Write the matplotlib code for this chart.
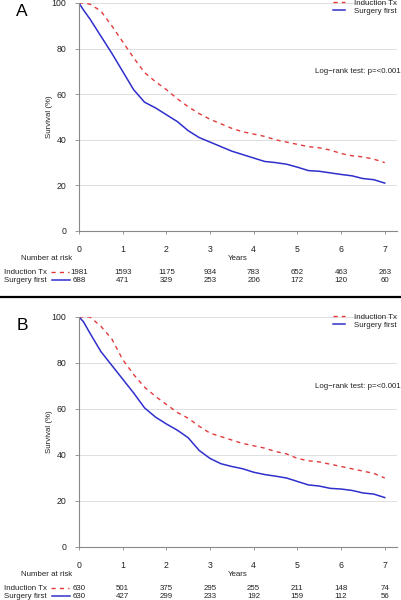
import matplotlib
matplotlib.use("Agg")
import matplotlib.pyplot as plt
from matplotlib.transforms import blended_transform_factory
from matplotlib.lines import Line2D

plt.rcParams['font.family'] = ['Liberation Sans', 'DejaVu Sans']

# ---------------- data ----------------
years_a = [0, 0.1, 0.25, 0.5, 0.75, 1.0, 1.25, 1.5, 1.75, 2.0, 2.25, 2.5, 2.75, 3.0, 3.25, 3.5,
           3.75, 4.0, 4.25, 4.5, 4.75, 5.0, 5.25, 5.5, 5.75, 6.0, 6.25, 6.5, 6.75, 7.0]
induction_a = [100, 100, 99.5, 96.5, 90, 83, 76, 69.5, 65.5, 62, 58, 54.5, 51.5, 49, 47, 45,
               43.5, 42.5, 41.5, 40, 39, 38, 37, 36.5, 35.5, 34, 33, 32.5, 31.5, 30]
surgery_a = [100, 97, 93, 85.5, 78, 70, 62, 56.5, 54, 51, 48, 44, 41, 39, 37, 35,
             33.5, 32, 30.5, 30, 29.3, 28, 26.5, 26.2, 25.5, 24.8, 24.2, 23, 22.5, 21]

years_b = years_a
induction_b = [100, 100, 100, 96, 90.5, 81.5, 75, 69.5, 65.5, 62, 58.5, 56, 52.5, 49.5, 48, 46.5,
               45, 44, 43, 41.5, 40.5, 38.5, 37.5, 37, 36, 35, 34, 33, 32, 30]
surgery_b = [100, 98, 93, 85, 79, 73, 67, 60.5, 56.5, 53.5, 50.8, 47.5, 42, 38.5, 36.2, 35,
             34, 32.5, 31.5, 30.8, 30, 28.5, 27, 26.5, 25.5, 25.2, 24.6, 23.5, 23, 21.5]

risk_years = [0, 1, 2, 3, 4, 5, 6, 7]
risk_induction_a = [1981, 1593, 1175, 934, 783, 652, 463, 263]
risk_surgery_a = [688, 471, 329, 253, 206, 172, 120, 60]
risk_induction_b = [630, 501, 375, 295, 255, 211, 148, 74]
risk_surgery_b = [630, 427, 299, 233, 192, 159, 112, 56]

series_names = ["Induction Tx", "Surgery first"]
panel_labels = ["A", "B"]
pvalue_text = "Log\u2212rank test: p=<0.001"

# ---------------- style ----------------
W, H = 402, 600
RED = '#e23a3a'
BLUE = '#2f2fcc'
GRAY = '#888888'
TXT = '#222222'
FS = 5.7
TFS = 6.3

fig = plt.figure(figsize=(W / 100, H / 100), dpi=100)


def fx(px):
    return px / W


def fy(py):
    return 1 - py / H


def panel(top_px, bottom_px, years, ind, sur, r_ind, r_sur, label):
    left, right = 79, 397
    hpx = bottom_px - top_px
    ax = fig.add_axes([fx(left), fy(bottom_px), fx(right - left), hpx / H])
    ax.set_xlim(0, 7.28)
    ax.set_ylim(0, 100)
    ax.set_yticks([0, 20, 40, 60, 80, 100])
    ax.set_xticks(risk_years)
    ax.grid(axis='y', color='#dedede', lw=0.7)
    ax.set_axisbelow(True)
    for s in ['top', 'right']:
        ax.spines[s].set_visible(False)
    for s in ['left', 'bottom']:
        ax.spines[s].set_color(GRAY)
        ax.spines[s].set_linewidth(0.8)
    ax.tick_params(axis='y', length=3, width=0.6, color=GRAY, pad=6, labelsize=TFS, labelcolor=TXT)
    ax.tick_params(axis='x', length=2, width=0.6, color=GRAY, pad=8, labelsize=TFS, labelcolor=TXT)
    ax.plot(years, ind, color=RED, lw=1.0, ls=(0, (3, 3)), label=series_names[0])
    ax.plot(years, sur, color=BLUE, lw=1.1, label=series_names[1])
    ax.set_ylabel("Survival (%)", fontsize=FS, color=TXT)
    ax.yaxis.set_label_coords((53 - left) / (right - left), 0.5)
    leg = ax.legend(loc='upper right', bbox_to_anchor=(1.0, 1.0 + 3.5 / hpx), frameon=False, fontsize=FS,
                    handlelength=1.5, handletextpad=1.1, labelspacing=0.05, borderpad=0,
                    borderaxespad=0)
    for t in leg.get_texts():
        t.set_color(TXT)
    ax.text(1.01, 0.70, pvalue_text, transform=ax.transAxes, ha='right', va='center',
            fontsize=FS, color=TXT)

    # labels below axis
    fig.text(fx(238), fy(bottom_px + 28), "Years", ha='center', va='center', fontsize=FS, color=TXT)
    fig.text(fx(47), fy(bottom_px + 28), "Number at risk", ha='center', va='center', fontsize=FS,
             color=TXT)
    fig.text(fx(22), fy(top_px + 8), label, ha='center', va='center', fontsize=12.5, color='black')

    # risk table
    tr = blended_transform_factory(ax.transData, fig.transFigure)
    y1 = fy(bottom_px + 41)
    y2 = fy(bottom_px + 49)
    for xv, n in zip(risk_years, r_ind):
        ax.text(xv, y1, str(n), transform=tr, ha='center', va='center', fontsize=FS, color=TXT)
    for xv, n in zip(risk_years, r_sur):
        ax.text(xv, y2, str(n), transform=tr, ha='center', va='center', fontsize=FS, color=TXT)
    fig.text(fx(4), y1, series_names[0], ha='left', va='center', fontsize=FS, color=TXT)
    fig.text(fx(4), y2, series_names[1], ha='left', va='center', fontsize=FS, color=TXT)
    fig.add_artist(Line2D([fx(51), fx(69)], [y1, y1], color=RED, lw=1.0, ls=(0, (3, 3)),
                          transform=fig.transFigure))
    fig.add_artist(Line2D([fx(52), fx(70)], [y2, y2], color=BLUE, lw=1.1,
                          transform=fig.transFigure))
    return ax


panel(3, 231, years_a, induction_a, surgery_a, risk_induction_a, risk_surgery_a, panel_labels[0])
panel(317, 547, years_b, induction_b, surgery_b, risk_induction_b, risk_surgery_b, panel_labels[1])

# separator line
fig.add_artist(Line2D([0, fx(401)], [fy(297), fy(297)], color='black', lw=1.6, transform=fig.transFigure))

fig.savefig("out.png", dpi=100)
